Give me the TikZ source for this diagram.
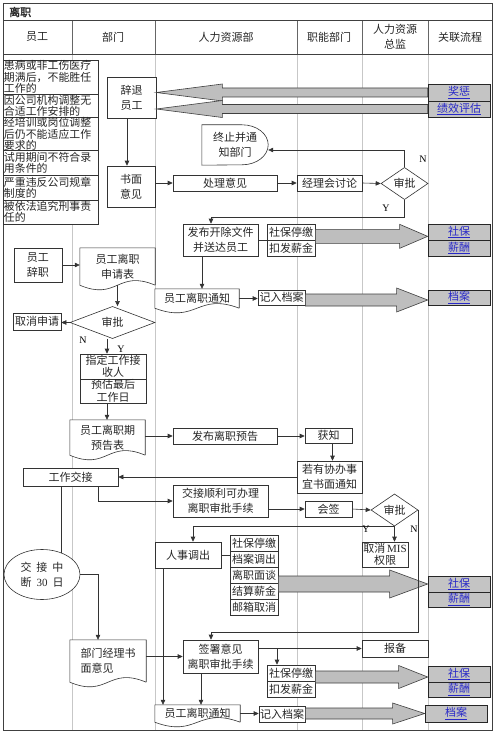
\documentclass[tikz,border=0pt]{standalone}
\usepackage{fontspec}
\setmainfont{Noto Sans CJK SC}[AutoFakeBold=2]
\newfontfamily\lat{Liberation Serif}
\usetikzlibrary{arrows.meta,shapes.geometric,calc,backgrounds}
\definecolor{linkblue}{RGB}{40,40,200}
\definecolor{fatgray}{RGB}{190,190,190}
\definecolor{linkgray}{RGB}{196,196,196}
\newcommand\fs{\fontsize{11}{15}\selectfont}
\newcommand\fst{\fontsize{11}{12.5}\selectfont}
\newcommand\fsr{\fontsize{10.9}{11.2}\selectfont}
\newcommand\docshape[1]{\filldraw[edge,fill=white] (#1.south east) -- (#1.north east) -- (#1.north west) -- (#1.south west) .. controls ($(#1.south)+(0,16)$) and ($(#1.south)+(0,-16)$) .. (#1.south east);}
\newcommand\fatR[5]{\draw[fat] let \p1=(#1), \p2=(#2) in (\x1,\y2+#3) -- (\x2-#5,\y2+#3) -- (\x2-#5,\y2+#4) -- (\x2,\y2) -- (\x2-#5,\y2-#4) -- (\x2-#5,\y2-#3) -- (\x1,\y2-#3) -- cycle;}
\newcommand\fatL[5]{\draw[fat] let \p1=(#1), \p2=(#2) in (\x1,\y2+#3) -- (\x2+#5,\y2+#3) -- (\x2+#5,\y2+#4) -- (\x2,\y2) -- (\x2+#5,\y2-#4) -- (\x2+#5,\y2-#3) -- (\x1,\y2-#3) -- cycle;}
\tikzset{
 edge/.style={draw=black!80, line width=0.6pt},
 box/.style={draw=black!80, line width=0.6pt, fill=white, inner sep=1pt, align=center, font=\fs, text=black!85},
 tbox/.style={box, font=\fst, inner ysep=0pt},
 rbox/.style={draw=black!80, line width=0.6pt, fill=white, align=left, font=\fsr, text width=93pt, inner xsep=1pt, inner ysep=0pt, text=black!85},
 docn/.style={inner sep=1pt, align=center, font=\fs, text=black!85},
 dia/.style={diamond, draw=black!80, line width=0.6pt, fill=white, inner sep=0pt, font=\fs, text=black!85},
 link/.style={draw=black!85, line width=0.7pt, fill=linkgray, text=linkblue, font=\fs, inner sep=0pt, minimum width=62},
 fat/.style={draw=black!75, line width=0.6pt, fill=fatgray},
 arr/.style={edge, -{Triangle[length=5pt,width=4.5pt]}},
 lane/.style={draw=black!22, line width=0.6pt},
 hdiv/.style={draw=black!60, line width=0.6pt},
 hline/.style={draw=black!75, line width=0.8pt},
 lbl/.style={font=\lat\fontsize{10}{12}\selectfont, inner sep=0pt},
 hd/.style={font=\fs, align=center, inner sep=0pt, text=black!85},
}
\begin{document}
\begin{tikzpicture}[x=1pt,y=-1pt]
\useasboundingbox (0,0) rectangle (495,733);
\begin{pgfonlayer}{background}
 \fill[white] (0,0) rectangle (495,733);
 \foreach \xx in {72,155,297,362,428} {\draw[lane] (\xx,54.5) -- (\xx,730); \draw[hdiv] (\xx,20.5) -- (\xx,54.5);}
\end{pgfonlayer}
\draw[hline] (3,3) rectangle (492,730);
\draw[hline] (3,20.5) -- (492,20.5);
\draw[hline] (3,54.5) -- (492,54.5);
% headers
\node[hd, font=\fs\bfseries, anchor=west] (title) at (9,12) {离职};
\node[hd] (h1) at (37,37) {员工};
\node[hd] (h2) at (113,37) {部门};
\node[hd] (h3) at (226,37) {人力资源部};
\node[hd] (h4) at (329,37) {职能部门};
\node[hd] (h5) at (395,37) {人力资源\\总监};
\node[hd] (h6) at (460,37) {关联流程};
% reasons
\node[rbox, minimum height=34] (r1) at (50.5,77) {患病或非工伤医疗\\期满后，不能胜任\\工作的};
\node[rbox, minimum height=24] (r2) at (50.5,106) {因公司机构调整无\\合适工作安排的};
\node[rbox, minimum height=32] (r3) at (50.5,134) {经培训或岗位调整\\后仍不能适应工作\\要求的};
\node[rbox, minimum height=25] (r4) at (50.5,162.5) {试用期间不符合录\\用条件的};
\node[rbox, minimum height=25] (r5) at (50.5,187.5) {严重违反公司规章\\制度的};
\node[rbox, minimum height=24] (r6) at (50.5,212) {被依法追究刑事责\\任的};
% dismissal
\node[box, minimum width=49, minimum height=41] (ct) at (131.5,97.5) {辞退\\员工};
\node[box, minimum width=48, minimum height=41] (sm) at (131,186.5) {书面\\意见};
\node[box, minimum width=104, minimum height=16] (cl) at (225,183) {处理意见};
\node[box, minimum width=65, minimum height=16] (jl) at (329.5,183) {经理会讨论};
\node[dia, minimum width=47, minimum height=31] (d1) at (404.5,183.5) {审批};
\node[docn, minimum width=66, minimum height=40] (zz) at (235,145) {终止并通\\知部门};
\node[box, minimum width=75, minimum height=32] (fb) at (220.5,240) {发布开除文件\\并送达员工};
\node[box, minimum width=48, minimum height=16] (sb1) at (291,232) {社保停缴};
\node[box, minimum width=48, minimum height=16] (kf1) at (291,248) {扣发薪金};
\node[link, minimum height=17] (jc) at (459,92.5) {\underline{奖惩}};
\node[link, minimum height=16] (jx) at (459,109) {\underline{绩效评估}};
\node[link, minimum height=16] (sbL1) at (459,232) {\underline{社保}};
\node[link, minimum height=16] (xcL1) at (459,248) {\underline{薪酬}};
% resignation
\node[box, minimum width=48, minimum height=34] (cz) at (38,265) {员工\\辞职};
\node[docn, minimum width=75, minimum height=37] (sq) at (117.5,266.5) {员工离职\\申请表};
\node[dia, minimum width=85, minimum height=31] (d2) at (112.5,322.5) {审批};
\node[box, minimum width=48, minimum height=17] (qx) at (37,321.5) {取消申请};
\node[tbox, minimum width=66, minimum height=25] (zd) at (113,366.5) {指定工作接\\收人};
\node[tbox, minimum width=66, minimum height=24] (yg) at (113,391) {预估最后\\工作日};
\node[docn, minimum width=84, minimum height=19] (tz1) at (197,298.5) {员工离职通知};
\node[box, minimum width=47, minimum height=15] (jr1) at (281.5,297.5) {记入档案};
\node[link, minimum height=15] (dL1) at (459,297.5) {\underline{档案}};
\node[docn, minimum width=75, minimum height=35] (ygb) at (107.5,437.5) {员工离职期\\预告表};
\node[box, minimum width=104, minimum height=16] (fbyg) at (225,436) {发布离职预告};
\node[box, minimum width=47, minimum height=15] (hz) at (328.5,435.5) {获知};
\node[box, minimum width=65, minimum height=32] (ry) at (329.5,477) {若有协办事\\宜书面通知};
\node[box, minimum width=95, minimum height=18] (gz) at (70.5,477) {工作交接};
\node[box, minimum width=95, minimum height=32] (jj) at (220.5,501) {交接顺利可办理\\离职审批手续};
\node[box, minimum width=47, minimum height=16] (hq) at (328.5,509) {会签};
\node[dia, minimum width=47, minimum height=32] (d3) at (394.5,510) {审批};
\node[tbox, minimum width=46, minimum height=25] (mis) at (385,554.5) {取消\,{\lat MIS}\\权限};
\node[box, minimum width=66, minimum height=26] (rs) at (188,555) {人事调出};
\node[box, minimum width=48, minimum height=16] (s1) at (254,543) {社保停缴};
\node[box, minimum width=48, minimum height=16] (s2) at (254,559) {档案调出};
\node[box, minimum width=48, minimum height=16] (s3) at (254,575) {离职面谈};
\node[box, minimum width=48, minimum height=16] (s4) at (254,591) {结算薪金};
\node[box, minimum width=48, minimum height=16] (s5) at (254,607) {邮箱取消};
\node[link, minimum height=16] (sbL2) at (459,584) {\underline{社保}};
\node[link, minimum height=15] (xcL2) at (459,599.5) {\underline{薪酬}};
\node[ellipse, draw=black!80, line width=0.6pt, fill=white, inner sep=0pt, align=center, font=\fs, text=black!85, minimum width=76, minimum height=50] (zd30) at (42,574.5) {交\hspace{5pt}接\hspace{5pt}中\\断\hspace{5pt}{\lat 30}\hspace{5pt}日};
\coordinate (eTop) at (61,552.5);
\node[docn, align=left, minimum width=76, minimum height=42] (bm) at (108,661) {部门经理书\\面意见};
\node[box, minimum width=75, minimum height=33] (qs) at (220.5,656.5) {签署意见\\离职审批手续};
\node[box, minimum width=66, minimum height=17] (bb) at (395,648.5) {报备};
\node[box, minimum width=48, minimum height=16] (sb3) at (291,673) {社保停缴};
\node[box, minimum width=48, minimum height=16] (kf3) at (291,689) {扣发薪金};
\node[link, minimum height=16] (sbL3) at (459,674) {\underline{社保}};
\node[link, minimum height=15] (xcL3) at (459,689.5) {\underline{薪酬}};
\node[docn, minimum width=85, minimum height=17] (tz2) at (197.5,713.5) {员工离职通知};
\node[box, minimum width=46, minimum height=16] (jr2) at (282,714) {记入档案};
\node[link, minimum height=17] (dL2) at (456,713.5) {\underline{档案}};
% shapes behind text
\begin{pgfonlayer}{background}
 \docshape{sq}
 \docshape{tz1}
 \docshape{ygb}
 \docshape{bm}
 \docshape{tz2}
 \filldraw[edge,fill=white] (zz.south west) -- (zz.north west) -- ([xshift=-26pt]zz.north east) arc[start angle=90,end angle=-90,x radius=26pt,y radius=20pt] -- cycle;
\end{pgfonlayer}
% fat arrows
\fatL{jc.west}{ct.east |- jc.west}{4.5pt}{8.5pt}{66pt}
\fatL{jx.west}{ct.east |- jx.west}{4.5pt}{8.5pt}{66pt}
\fatR{sb1.east}{[yshift=4pt]sbL1.south west}{7pt}{12pt}{28pt}
\fatR{jr1.east}{[yshift=-2.5pt]dL1.west}{6pt}{12pt}{31pt}
\fatR{s5.east}{sbL2.west}{8pt}{14pt}{38pt}
\fatR{sb3.east}{[yshift=-3pt]sbL3.west}{6pt}{11.5pt}{29pt}
\fatR{jr2.east}{dL2.west}{5.5pt}{10.5pt}{32pt}
% connectors
\draw[arr] ([xshift=-4.5pt]ct.south) -- ([xshift=-4.5pt]ct.south |- sm.north);
\draw[arr] (cl.west -| sm.east) -- (cl.west);
\draw[arr] (cl.east) -- (jl.west);
\draw[arr] (jl.east) -- (d1.west);
\draw[arr] (d1.north) |- ([yshift=-5pt]zz.east);
\draw[arr] (d1.south) -- ++(0,17) -| ([xshift=-9.5pt]fb.north);
\draw[edge] (fb.east) -- (fb.east -| sb1.west);
\draw[arr] ([xshift=-18.5pt]fb.south) -- ([xshift=-18.5pt]fb.south |- tz1.north);
\draw[arr] (tz1.east) -- (tz1.east -| jr1.west);
\draw[arr] (cz.east) -- (cz.east -| sq.west);
\draw[arr] (sq.south) -- (sq.south |- d2.north);
\draw[arr] (d2.west) -- (d2.west -| qx.east);
\draw[arr] ([xshift=-5.5pt]d2.south) -- ([xshift=-5.5pt]d2.south |- zd.north);
\draw[arr] ([xshift=-6pt]yg.south) -- ([xshift=-6pt]yg.south |- ygb.north);
\draw[arr] (fbyg.west -| ygb.east) -- (fbyg.west);
\draw[arr] (fbyg.east) -- (fbyg.east -| hz.west);
\draw[arr] ([xshift=4pt]hz.south) -- ([xshift=4pt]hz.south |- ry.north);
\draw[arr] (ry.west) -- (ry.west -| gz.east);
\draw[arr] ([xshift=27.5pt]gz.south) |- (jj.west);
\draw[arr] (hq.west -| jj.east) -- (hq.west);
\draw[arr] (hq.east) -- (d3.west);
\draw[arr] (d3.south) -- (d3.south |- mis.north);
\draw[arr] (d3.south) -- ([xshift=5pt]rs.north |- d3.south) -- ([xshift=5pt]rs.north);
\draw[arr] (d3.east) -- ++(0,122) -| ([xshift=-9.5pt]qs.north);
\draw[edge] (rs.east) -- (rs.east -| s2.west);
\draw[edge] ([xshift=-9.5pt]gz.south) -- (eTop);
\draw[arr] (zd30.east) -| ([xshift=-10pt]bm.north);
\draw[arr] (qs.west -| bm.east) -- (qs.west);
\draw[arr] (bb.west -| qs.east) -- (bb.west);
\draw[arr] ([xshift=-14pt]sb3.north |- bb.west) -- ([xshift=-14pt]sb3.north);
\draw[arr] ([xshift=-19.5pt]qs.south) -- ([xshift=-19.5pt]qs.south |- tz2.north);
\draw[arr] ([xshift=-25pt]rs.south) -- ([xshift=-25pt]rs.south |- tz2.north);
\draw[arr] (tz2.east) -- (tz2.east -| jr2.west);
% Y/N labels
\node[lbl] (nN1) at (423,159) {N};
\node[lbl] (nY1) at (386,208) {Y};
\node[lbl] (nN2) at (83,340) {N};
\node[lbl] (nY2) at (121,349) {Y};
\node[lbl] (nY3) at (366,529) {Y};
\node[lbl] (nN3) at (414,529) {N};
\end{tikzpicture}
\end{document}
